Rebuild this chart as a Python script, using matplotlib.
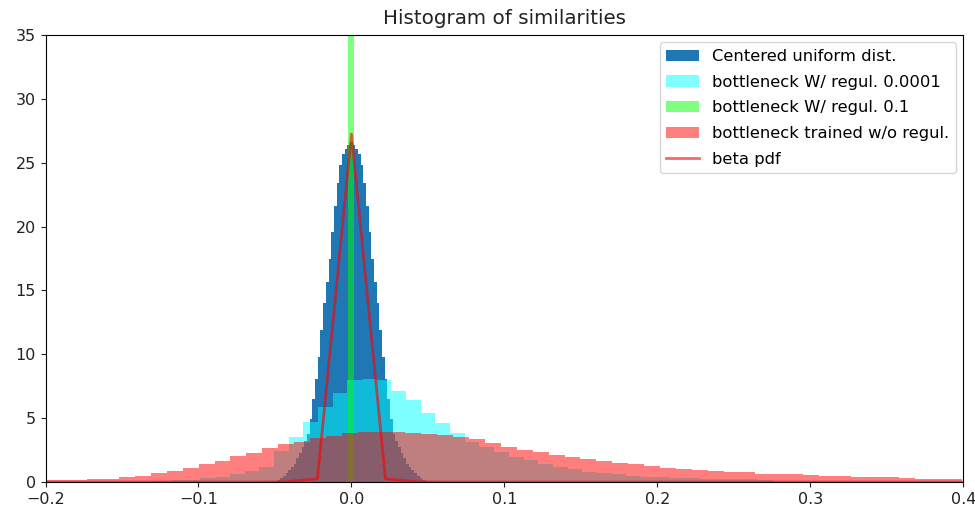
import numpy as np
import matplotlib
matplotlib.use("Agg")
import matplotlib.pyplot as plt

# ---------------- data ----------------
# Centered uniform dist. : density per narrow bin
blue_start = -0.05175
blue_width = 0.00175
blue_heights = [0.03, 0.08, 0.18, 0.32, 0.5, 0.72, 0.95, 1.2, 1.45, 1.85,
                2.3, 2.75, 3.2, 3.8, 4.9, 6.5, 8.1, 9.8, 11.9, 14.0,
                15.7, 17.5, 19.6, 21.6, 23.4, 24.8, 25.7, 26.1, 26.4, 26.6,
                26.4, 26.1, 25.7, 24.8, 23.4, 21.6, 19.6, 17.5, 15.7, 14.0,
                11.9, 9.8, 8.1, 6.5, 4.9, 3.8, 3.2, 2.75, 2.3, 1.85,
                1.45, 1.2, 0.95, 0.72, 0.5, 0.32, 0.18, 0.08, 0.03]

# bottleneck W/ regul. 0.0001
cyan_start = -0.1275
cyan_width = 0.0096
cyan_heights = [0.06, 0.15, 0.16, 0.29, 0.42, 0.6, 0.86, 1.2, 2.4, 3.55,
                4.68, 5.87, 6.98, 8.0, 8.05, 7.96, 7.15, 6.42, 5.38, 4.6,
                3.82, 3.16, 2.77, 2.37, 1.98, 1.72, 1.41, 1.15, 0.99, 0.81,
                0.68, 0.6, 0.47, 0.42, 0.38, 0.34, 0.34, 0.25, 0.23, 0.22,
                0.2, 0.18]

# bottleneck W/ regul. 0.1 (single spike, clipped by the y-limit)
green_edges = [-0.0025, 0.0019]
green_heights = [80.0]

# bottleneck trained w/o regul.
red_start = -0.2039
red_width = 0.0104
red_heights = [0.15, 0.15, 0.15, 0.23, 0.23, 0.37, 0.5, 0.68, 0.89, 1.12,
               1.38, 1.67, 2.0, 2.3, 2.64, 2.95, 3.16, 3.42, 3.6, 3.81,
               3.92, 3.92, 3.92, 3.85, 3.76, 3.68, 3.5, 3.34, 3.05, 2.77,
               2.5, 2.37, 2.11, 1.98, 1.78, 1.64, 1.51, 1.38, 1.25, 1.07,
               0.99, 0.95, 0.89, 0.78, 0.76, 0.65, 0.63, 0.62, 0.52, 0.5,
               0.48, 0.38, 0.37, 0.36, 0.35, 0.24, 0.23, 0.22]

# beta pdf curve
beta_x = [-0.2, -0.1778, -0.1556, -0.1333, -0.1111, -0.0889, -0.0667, -0.0444,
          -0.0222, 0.0, 0.0222, 0.0444, 0.0667, 0.0889, 0.1111, 0.1333, 0.1556,
          0.1778, 0.2, 0.2222, 0.2444, 0.2667, 0.2889, 0.3111, 0.3333, 0.3556,
          0.3778, 0.4]
beta_y = [0.0, 0.0, 0.0, 0.0, 0.0, 0.0, 0.0, 0.01,
          0.25, 27.25, 0.25, 0.01, 0.0, 0.0, 0.0, 0.0, 0.0,
          0.0, 0.0, 0.0, 0.0, 0.0, 0.0, 0.0, 0.0, 0.0,
          0.0, 0.0]

labels = ["Centered uniform dist.", "bottleneck W/ regul. 0.0001",
          "bottleneck W/ regul. 0.1", "bottleneck trained w/o regul.", "beta pdf"]
title = "Histogram of similarities"
x_ticks = [-0.2, -0.1, 0.0, 0.1, 0.2, 0.3, 0.4]
y_ticks = [0, 5, 10, 15, 20, 25, 30, 35]


def edges_of(start, width, n):
    return start + width * np.arange(n + 1)


def draw_hist(ax, edges, heights, **kw):
    edges = np.asarray(edges)
    centers = 0.5 * (edges[:-1] + edges[1:])
    return ax.hist(centers, bins=edges, weights=heights, histtype="stepfilled", **kw)


fig = plt.figure(figsize=(9.75, 5.09), dpi=100)
ax = fig.add_axes([0.0467, 0.053, 0.9413, 0.878])

draw_hist(ax, edges_of(blue_start, blue_width, len(blue_heights)), blue_heights,
          color="#1f77b4", label=labels[0])
draw_hist(ax, edges_of(cyan_start, cyan_width, len(cyan_heights)), cyan_heights,
          color="cyan", alpha=0.5, label=labels[1])
draw_hist(ax, green_edges, green_heights, color="lime", alpha=0.5, label=labels[2])
draw_hist(ax, edges_of(red_start, red_width, len(red_heights)), red_heights,
          color="red", alpha=0.5, label=labels[3])
ax.plot(beta_x, beta_y, "r-", lw=2, alpha=0.6, label=labels[4])

ax.set_xlim(-0.2, 0.4)
ax.set_ylim(0, 35)
ax.set_xticks(x_ticks)
ax.set_yticks(y_ticks)
ax.tick_params(labelsize=11.5, colors="#222222")
ax.set_title(title, fontsize=14.3, color="#222222", pad=8)
ax.legend(loc="upper right", fontsize=11.8, borderaxespad=0.45, labelspacing=0.65)

fig.savefig("out.png", dpi=100)
